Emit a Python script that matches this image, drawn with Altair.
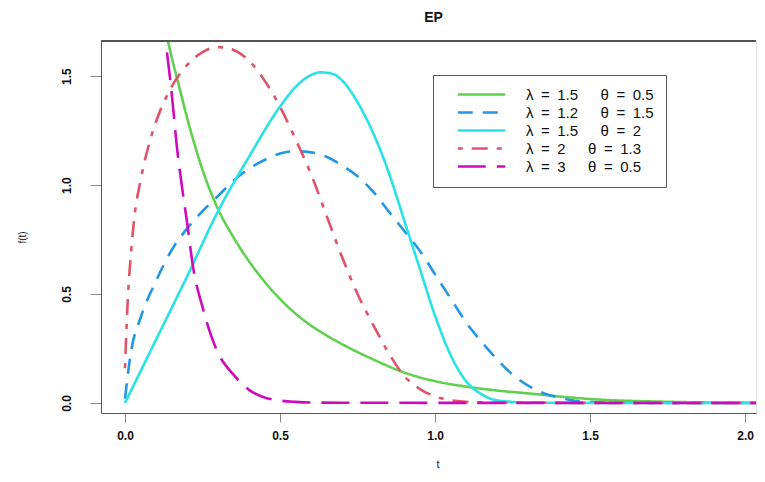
import altair as alt
import pandas as pd

SP = "\u2002"
GAP = "\u2003\u2002"
series_names = [
    f"λ{SP}={SP}1.5{GAP}θ{SP}={SP}0.5",
    f"λ{SP}={SP}1.2{GAP}θ{SP}={SP}1.5",
    f"λ{SP}={SP}1.5{GAP}θ{SP}={SP}2",
    f"λ{SP}={SP}2{GAP}θ{SP}={SP}1.3",
    f"λ{SP}={SP}3{GAP}θ{SP}={SP}0.5",
]
series_colors = ["#61D04F", "#2297E6", "#28E2E5", "#DF536B", "#CD0BBC"]
series_dashes = [[1, 0], [15, 10], [1, 0], [5, 9, 16, 9], [28, 11]]

# green: lambda=1.5 theta=0.5
t_green = [0.10, 0.138, 0.15, 0.175, 0.20, 0.25, 0.30, 0.35, 0.40, 0.45, 0.50, 0.55, 0.60,
           0.65, 0.70, 0.80, 0.90, 1.00, 1.10, 1.20, 1.30, 1.40, 1.50, 1.60, 1.70, 1.80,
           1.90, 2.10]
f_green = [1.93, 1.665, 1.59, 1.45, 1.31, 1.07, 0.89, 0.76, 0.65, 0.557, 0.477, 0.41, 0.355,
           0.31, 0.27, 0.20, 0.14, 0.10, 0.075, 0.057, 0.044, 0.03, 0.018, 0.011, 0.007,
           0.004, 0.002, 0.001]

# blue: lambda=1.2 theta=1.5
t_blue = [0.0, 0.02, 0.05, 0.10, 0.15, 0.20, 0.25, 0.30, 0.35, 0.40, 0.45, 0.50, 0.55, 0.60,
          0.65, 0.70, 0.75, 0.80, 0.85, 0.90, 0.95, 1.00, 1.05, 1.10, 1.15, 1.20, 1.25, 1.30,
          1.35, 1.40, 1.45, 1.50, 1.60, 2.10]
f_blue = [0.02, 0.24, 0.39, 0.56, 0.70, 0.80, 0.88, 0.95, 1.02, 1.075, 1.115, 1.145, 1.155,
          1.15, 1.13, 1.09, 1.04, 0.97, 0.88, 0.79, 0.70, 0.59, 0.48, 0.37, 0.28, 0.20, 0.13,
          0.08, 0.045, 0.025, 0.01, 0.004, 0.001, 0.0]

# cyan: lambda=1.5 theta=2
t_cyan = [0.0, 0.10, 0.20, 0.30, 0.40, 0.50, 0.55, 0.60, 0.63, 0.67, 0.70, 0.75, 0.80, 0.85,
          0.90, 0.95, 1.00, 1.05, 1.10, 1.15, 1.20, 1.30, 1.50, 2.10]
f_cyan = [0.0, 0.29, 0.58, 0.88, 1.13, 1.36, 1.45, 1.505, 1.517, 1.51, 1.48, 1.38, 1.24, 1.06,
          0.84, 0.62, 0.40, 0.22, 0.10, 0.04, 0.012, 0.002, 0.0, 0.0]

# red: lambda=2 theta=1.3
t_red = [0.0, 0.005, 0.01, 0.02, 0.03, 0.05, 0.08, 0.10, 0.15, 0.20, 0.25, 0.30, 0.35, 0.40,
         0.45, 0.50, 0.55, 0.60, 0.65, 0.70, 0.75, 0.80, 0.85, 0.90, 0.95, 1.00, 1.05, 1.10,
         1.20, 2.10]
f_red = [0.16, 0.35, 0.50, 0.70, 0.85, 1.02, 1.20, 1.29, 1.45, 1.55, 1.61, 1.633, 1.62, 1.57,
         1.48, 1.36, 1.21, 1.05, 0.86, 0.67, 0.50, 0.36, 0.23, 0.125, 0.065, 0.03, 0.013, 0.005,
         0.001, 0.0]

# magenta: lambda=3 theta=0.5
t_mag = [0.08, 0.10, 0.131, 0.15, 0.167, 0.183, 0.20, 0.22, 0.25, 0.28, 0.30, 0.35, 0.40,
         0.45, 0.50, 0.55, 0.60, 0.70, 2.10]
f_mag = [2.5, 2.14, 1.665, 1.43, 1.18, 1.0, 0.83, 0.62, 0.44, 0.30, 0.23, 0.13, 0.06,
         0.025, 0.011, 0.005, 0.002, 0.001, 0.0]

x_ticks = [0.0, 0.5, 1.0, 1.5, 2.0]
y_ticks = [0.0, 0.5, 1.0, 1.5]

rows = []
for name, ts, fs in zip(series_names, [t_green, t_blue, t_cyan, t_red, t_mag],
                        [f_green, f_blue, f_cyan, f_red, f_mag]):
    for t, f in zip(ts, fs):
        rows.append({"t": t, "f": f, "series": name})
df = pd.DataFrame(rows)

FONT = "Liberation Sans"
W, H = 655, 372

lines = alt.Chart(df).mark_line(strokeWidth=2.6, clip=True, interpolate="monotone").encode(
    x=alt.X("t:Q", scale=alt.Scale(domain=[-0.0774, 2.035], nice=False, zero=False),
            axis=alt.Axis(values=x_ticks, format=".1f", title="t", grid=False,
                          domainColor="#555", tickColor="#888", tickSize=9,
                          labelFont=FONT, labelFontSize=12, labelFontWeight="bold",
                          labelColor="#111", labelPadding=8,
                          titleFont=FONT, titleFontSize=11, titleFontWeight="normal",
                          titleColor="#222", titleX=W / 2 + 9, titleY=51,
                          titleBaseline="middle")),
    y=alt.Y("f:Q", scale=alt.Scale(domain=[-0.046, 1.661], nice=False, zero=False),
            axis=alt.Axis(values=y_ticks, format=".1f", title="f(t)", grid=False,
                          domainColor="#555", tickColor="#888", tickSize=11,
                          labelFont=FONT, labelFontSize=12, labelFontWeight="bold",
                          labelColor="#111", labelAngle=270, labelAlign="center",
                          labelBaseline="bottom", labelPadding=17,
                          titleFont=FONT, titleFontSize=10, titleFontWeight="normal",
                          titleColor="#222", titleAngle=270, titleX=-79, titleY=H / 2 + 10,
                          titleBaseline="middle", titleAlign="center")),
    color=alt.Color("series:N", scale=alt.Scale(domain=series_names, range=series_colors),
                    sort=series_names,
                    legend=alt.Legend(orient="none", legendX=332, legendY=34, title=None,
                                      symbolType="M-5,0L5,0", symbolSize=90,
                                      symbolStrokeWidth=2.6, labelFont=FONT,
                                      labelFontSize=15, labelColor="#111",
                                      labelOffset=37, symbolOffset=29, rowPadding=2,
                                      padding=12, strokeColor="#555", fillColor="white",
                                      labelLimit=300)),
    strokeDash=alt.StrokeDash("series:N", scale=alt.Scale(domain=series_names,
                                                          range=series_dashes),
                              sort=series_names, legend=None),
)

top_border = alt.Chart(df).mark_rule(color="#555", strokeWidth=1).encode(
    x=alt.value(0), x2=alt.value(W), y=alt.value(0)
)

chart = alt.layer(lines, top_border).properties(
    width=W, height=H,
    title=alt.TitleParams("EP", font=FONT, fontSize=14, fontWeight="bold", color="#111",
                          anchor="middle", dx=5, offset=16, frame="group"),
    autosize=alt.AutoSizeParams(type="none"),
    padding={"left": 93, "top": 33, "right": 1, "bottom": 55},
).configure_view(stroke=None).configure(background="white")

chart.save("out.html", embed_options={"renderer": "svg", "actions": False})
